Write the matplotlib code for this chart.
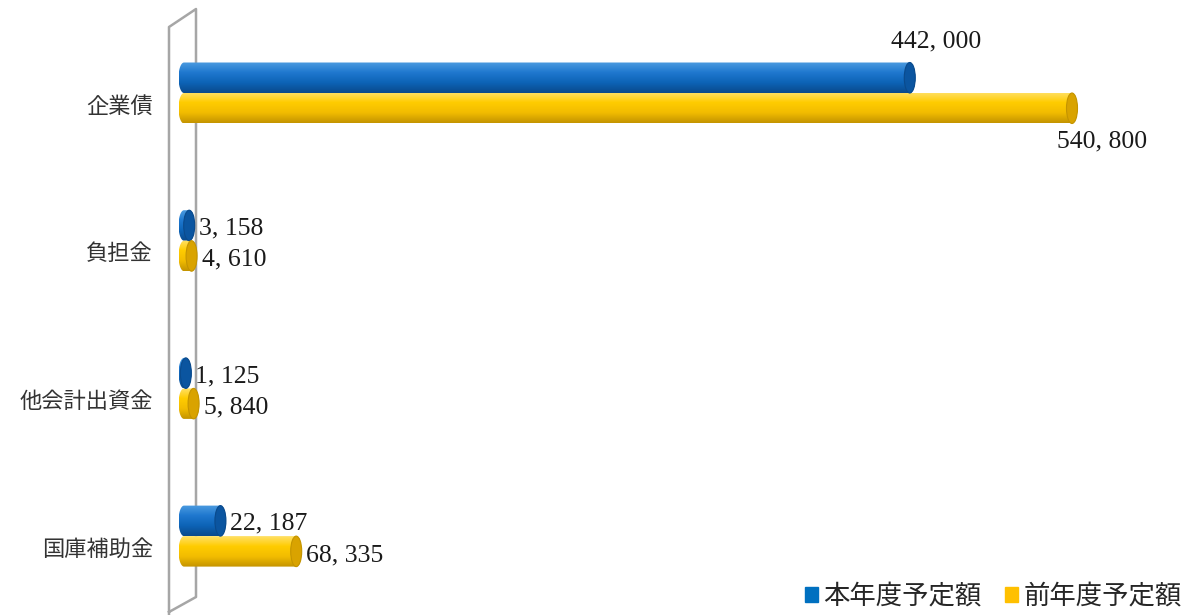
import numpy as np
import matplotlib
matplotlib.use('Agg')
import matplotlib.pyplot as plt
from matplotlib.path import Path
from matplotlib.patches import PathPatch, Ellipse, Patch
from matplotlib.lines import Line2D
from matplotlib.colors import LinearSegmentedColormap

plt.rcParams['font.family'] = ['Noto Sans CJK JP', 'DejaVu Sans']

# data
categories = ['企業債', '負担金', '他会計出資金', '国庫補助金']
this_year = [442000, 3158, 1125, 22187]
last_year = [540800, 4610, 5840, 68335]
series_names = ['本年度予定額', '前年度予定額']

W, H = 1189, 615
x0_px = 184             # pixel where value 0 sits
ax_left_px = 172        # axes starts a bit left so the rounded ends are not cut
px_per_unit = 1.642e-3  # pixels per yen
cat_px0, cat_step = 93, 147.7

blue_grad = ['#4b9be0', '#1f78cf', '#0d63b6', '#0a4a8c']
yellow_grad = ['#ffe066', '#ffcc00', '#f2bc00', '#c49400']
blue_cap = '#0b55a0'
yellow_cap = '#d9a300'

#=====================================

def cylinder(ax, y, v, h, grad, cap):
    '''horizontal cylinder from 0 to v centred on y'''
    rx = 5.5 / px_per_unit
    t = np.linspace(-np.pi / 2, np.pi / 2, 40)
    right = np.column_stack([v + rx * np.cos(t), y - (h / 2) * np.sin(t)])
    left = np.column_stack([-rx * np.cos(t), y + (h / 2) * np.sin(t)])
    verts = np.vstack([right, left, right[:1]])
    codes = [Path.MOVETO] + [Path.LINETO] * (len(verts) - 2) + [Path.CLOSEPOLY]
    body = PathPatch(Path(verts, codes), facecolor='none', edgecolor='none', zorder=3)
    ax.add_patch(body)
    cmap = LinearSegmentedColormap.from_list('g', grad)
    img = cmap(np.linspace(0, 1, 64))[:, None, :]
    im = ax.imshow(img, extent=(-rx, v + rx, y + h / 2, y - h / 2), aspect='auto',
                   interpolation='bilinear', zorder=3)
    im.set_clip_path(body)
    ax.add_patch(Ellipse((v, y), 2 * rx, h, facecolor=cap, edgecolor=grad[-1],
                         lw=0.8, zorder=4))
    return v + rx

#=====================================

fig = plt.figure(figsize=(W / 100, H / 100), dpi=100)
ax = fig.add_axes([ax_left_px / W, 0, 1 - ax_left_px / W, 1])

# wall outline on the left
wall = [(169, 615), (169, 27), (196, 9), (196, 597), (169, 612)]
wx = [p[0] / W for p in wall]
wy = [1 - p[1] / H for p in wall]
ax.add_line(Line2D(wx, wy, color='#a6a6a6', lw=1.8, transform=fig.transFigure,
                   clip_on=False, zorder=1))

h = 30.5 / cat_step
label_font = dict(family=['Liberation Serif', 'DejaVu Serif'], fontsize=18.5, color='#1a1a1a')

# label offsets in pixels (dx from bar end, dy down, ha)
offs_blue = [(21, -36, 'center'), (4, 3, 'left'), (4, 3, 'left'), (4, 3, 'left')]
offs_yellow = [(25, 33, 'center'), (5, 4, 'left'), (5, 4, 'left'), (4, 4, 'left')]

for i in range(len(categories)):
    yb = i - h / 2
    yy = i + h / 2
    eb = cylinder(ax, yb, this_year[i], h, blue_grad, blue_cap)
    ey = cylinder(ax, yy, last_year[i], h, yellow_grad, yellow_cap)
    for e, yc, v, (dx, dy, ha) in [(eb, yb, this_year[i], offs_blue[i]),
                                   (ey, yy, last_year[i], offs_yellow[i])]:
        ax.annotate(f'{v:,}'.replace(',', ', '), xy=(e, yc),
                    xytext=(dx * 0.72, -dy * 0.72), textcoords='offset points',
                    ha=ha, va='center', **label_font)

ax.set_xlim(-(x0_px - ax_left_px) / px_per_unit, (W - x0_px) / px_per_unit)
ax.set_ylim((H - cat_px0) / cat_step, -cat_px0 / cat_step)
ax.set_yticks([i + 0.07 for i in range(len(categories))])
ax.set_yticklabels(categories, fontsize=16, color='#333333')
ax.tick_params(axis='y', length=0, pad=(ax_left_px - 153) * 0.72)
ax.set_xticks([])
for s in ax.spines.values():
    s.set_visible(False)
ax.patch.set_alpha(0)

fig.legend(handles=[Patch(color='#0070c0'), Patch(color='#ffc000')], labels=series_names,
           loc='lower right', bbox_to_anchor=(1.014, -0.03), ncol=2, frameon=False,
           fontsize=19, handlelength=0.5, handleheight=0.5, handletextpad=0.2,
           columnspacing=0.9, labelcolor='#262626')

fig.savefig('out.png', dpi=100)
